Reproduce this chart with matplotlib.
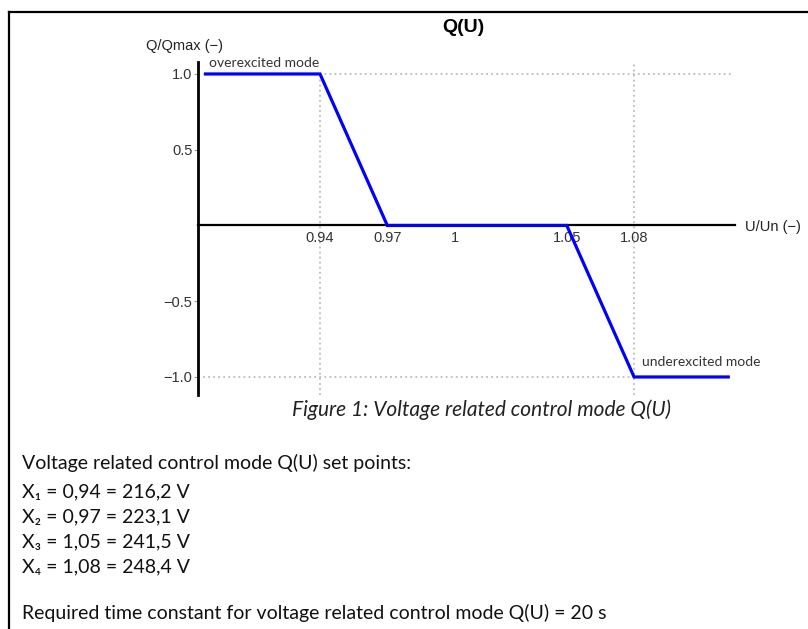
import matplotlib
matplotlib.use("Agg")
import matplotlib.pyplot as plt
from matplotlib.lines import Line2D

# Q(U) characteristic: reactive power share vs. per-unit voltage
u_pts = [0.889, 0.94, 0.97, 1.05, 1.08, 1.122]
q_pts = [1.0, 1.0, 0.0, 0.0, -1.0, -1.0]

x_ticks = [0.94, 0.97, 1.0, 1.05, 1.08]
x_tick_labels = ["0.94", "0.97", "1", "1.05", "1.08"]
y_ticks = [-1.0, -0.5, 0.5, 1.0]
y_tick_labels = ["\u22121.0", "\u22120.5", "0.5", "1.0"]

set_points = [
    ("X\u2081", "0,94", "216,2"),
    ("X\u2082", "0,97", "223,1"),
    ("X\u2083", "1,05", "241,5"),
    ("X\u2084", "1,08", "248,4"),
]
time_constant = 20

W, H = 808, 629
fig = plt.figure(figsize=(W / 100, H / 100), dpi=100)

def px(x0, y0, x1, y1):
    # pixel box (top-left origin) -> figure fraction rect
    return [x0 / W, 1 - y1 / H, (x1 - x0) / W, (y1 - y0) / H]

XMIN, XMAX = 0.8856, 1.125
YMIN, YMAX = -1.119, 1.079
ax = fig.add_axes(px(198, 62, 735, 395))
ax.set_xlim(XMIN, XMAX)
ax.set_ylim(YMIN, YMAX)

# dotted guide lines
dot = dict(color="#bdbdbd", lw=1.3, ls=(0, (1, 1.8)), zorder=1)
ax.plot([XMIN, 1.123], [1.0, 1.0], **dot)
ax.plot([XMIN, 1.08], [-1.0, -1.0], **dot)
ax.plot([0.94, 0.94], [YMIN, 1.0], **dot)
ax.plot([1.08, 1.08], [YMIN, 1.07], **dot)

ax.plot(u_pts, q_pts, color="#0000ff", lw=2.3, zorder=3, solid_joinstyle="miter")

for s in ("top", "right"):
    ax.spines[s].set_visible(False)
ax.spines["bottom"].set_position(("data", 0))
ax.spines["bottom"].set_linewidth(1.6)
ax.spines["left"].set_linewidth(2.0)
ax.spines["bottom"].set_zorder(2)

ax.set_xticks(x_ticks)
ax.set_xticklabels(x_tick_labels)
ax.set_yticks(y_ticks)
ax.set_yticklabels(y_tick_labels)
ax.tick_params(axis="x", length=0, pad=4, labelsize=10.5, labelcolor="#333333")
ax.tick_params(axis="y", length=3, width=0.8, pad=1, labelsize=10.5,
               labelcolor="#333333", color="#999999")
for lab in ax.get_xticklabels() + ax.get_yticklabels():
    lab.set_fontfamily("Liberation Sans")

ax.text(0.8905, 1.035, "overexcited mode", fontsize=10, family="Lato",
        color="#333333", ha="left", va="bottom")
ax.text(1.0835, -0.94, "underexcited mode", fontsize=10, family="Lato",
        color="#333333", ha="left", va="bottom")

fig.text(463 / W, 1 - 27 / H, "Q(U)", fontsize=14, fontweight="bold",
         family="Liberation Sans", ha="center", va="center")
fig.text(184 / W, 1 - 46 / H, "Q/Qmax (\u2212)", fontsize=10.5,
         family="Liberation Sans", color="#222222", ha="center", va="center")
fig.text(745 / W, 1 - 227 / H, "U/Un (\u2212)", fontsize=10.5,
         family="Liberation Sans", color="#222222", ha="left", va="center")

fig.text(481 / W, 1 - 410 / H, "Figure 1: Voltage related control mode Q(U)",
         fontsize=15, family="Lato", style="italic", color="#222222",
         ha="center", va="center")

body = dict(fontsize=14, family=["Lato", "DejaVu Sans"], color="#111111",
            ha="left", va="center")
fig.text(22 / W, 1 - 463 / H, "Voltage related control mode Q(U) set points:", **body)
for i, (name, pu, volts) in enumerate(set_points):
    fig.text(22 / W, 1 - (492 + 25 * i) / H, f"{name} = {pu} = {volts} V", **body)
fig.text(22 / W, 1 - 613 / H,
         f"Required time constant for voltage related control mode Q(U) = {time_constant} s",
         **body)

# page frame on left and top
fig.add_artist(Line2D([9 / W, 9 / W], [0, 1 - 12 / H], color="black", lw=1.6,
                      transform=fig.transFigure))
fig.add_artist(Line2D([9 / W, 1], [1 - 12 / H, 1 - 12 / H], color="black", lw=1.6,
                      transform=fig.transFigure))

fig.savefig("out.png", dpi=100)
